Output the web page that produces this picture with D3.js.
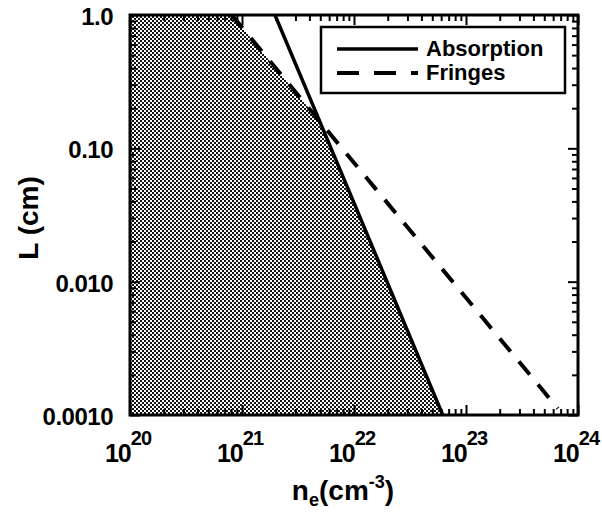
<!DOCTYPE html>
<html>
<head>
<meta charset="utf-8">
<script src="https://cdn.jsdelivr.net/npm/d3@7"></script>
<style>
  body { margin: 0; background: #fff; }
  svg { display: block; font-family: "Liberation Sans", Arial, Helvetica, sans-serif; font-weight: bold; }
</style>
</head>
<body>
<div id="chart"></div>
<script>
// decades on the density axis (10^20 .. 10^24)
var xExponents = [20, 21, 22, 23, 24];
var yTickValues = [1.0, 0.1, 0.01, 0.001];
var yTickLabels = ["1.0", "0.10", "0.010", "0.0010"];

// curves (n_e in cm^-3, L in cm)
var absorptionN = [1.97e21, 1.0e22, 6.2e22];
var absorptionL = [1.0, 0.039, 0.001];
var fringesN = [8.1e20, 1.0e22, 6.6e23];
var fringesL = [1.0, 0.078, 0.00112];

var legendNames = ["Absorption", "Fringes"];

var width = 602, height = 514,
    margin = { top: 15, right: 24, bottom: 99, left: 130 };

var svg = d3.select("#chart").append("svg")
    .attr("width", width)
    .attr("height", height);

var x = d3.scaleLog().domain([1e20, 1e24]).range([margin.left, width - margin.right]);
var y = d3.scaleLog().domain([0.001, 1]).range([height - margin.bottom, margin.top]);

var absorption = absorptionN.map(function(n, i) { return { n: n, L: absorptionL[i] }; });
var fringes = fringesN.map(function(n, i) { return { n: n, L: fringesL[i] }; });

// halftone fill
var defs = svg.append("defs");
var pat = defs.append("pattern")
    .attr("id", "halftone")
    .attr("patternUnits", "userSpaceOnUse")
    .attr("width", 4).attr("height", 4);
pat.append("rect").attr("width", 4).attr("height", 4).attr("fill", "#fff");
pat.append("rect").attr("width", 2).attr("height", 2).attr("fill", "#111");
pat.append("rect").attr("x", 2).attr("y", 2).attr("width", 2).attr("height", 2).attr("fill", "#111");

defs.append("clipPath").attr("id", "plot-clip")
  .append("rect")
    .attr("x", margin.left).attr("y", margin.top)
    .attr("width", width - margin.left - margin.right)
    .attr("height", height - margin.top - margin.bottom);

// n on a series (log-log straight pieces, extended at the ends) for a given L
function nAt(series, L) {
  var s = series.slice().sort(function(a, b) { return b.L - a.L; });
  var i = 0;
  while (i < s.length - 2 && L < s[i + 1].L) i++;
  var a = s[i], b = s[i + 1];
  var t = (Math.log(L) - Math.log(a.L)) / (Math.log(b.L) - Math.log(a.L));
  return Math.exp(Math.log(a.n) + t * (Math.log(b.n) - Math.log(a.n)));
}

// find where the two curves cross (bisection in log L)
function crossing() {
  var lo = Math.log(y.domain()[0]), hi = Math.log(y.domain()[1]);
  var f = function(v) { return nAt(absorption, Math.exp(v)) - nAt(fringes, Math.exp(v)); };
  for (var k = 0; k < 60; k++) {
    var mid = (lo + hi) / 2;
    if ((f(lo) > 0) === (f(mid) > 0)) lo = mid; else hi = mid;
  }
  return Math.exp((lo + hi) / 2);
}

var Ls = [y.domain()[1], y.domain()[0], crossing()]
    .concat(absorptionL, fringesL)
    .filter(function(L) { return L <= y.domain()[1] && L >= y.domain()[0]; })
    .sort(function(a, b) { return b - a; });

var boundary = Ls.map(function(L) {
  return { n: Math.min(nAt(absorption, L), nAt(fringes, L)), L: L };
});

var shade = d3.area()
    .y(function(d) { return y(d.L); })
    .x0(x.range()[0])
    .x1(function(d) { return x(d.n); });

var plot = svg.append("g").attr("clip-path", "url(#plot-clip)");

plot.append("path")
    .datum(boundary)
    .attr("fill", "url(#halftone)")
    .attr("d", shade);

var line = d3.line()
    .x(function(d) { return x(d.n); })
    .y(function(d) { return y(d.L); });

plot.append("path")
    .datum(absorption)
    .attr("fill", "none")
    .attr("stroke", "#000")
    .attr("stroke-width", 3.5)
    .attr("d", line);

plot.append("path")
    .datum(fringes)
    .attr("fill", "none")
    .attr("stroke", "#000")
    .attr("stroke-width", 4)
    .attr("stroke-dasharray", "17,13")
    .attr("d", line);

// minor tick positions
var xMinor = [];
xExponents.slice(0, -1).forEach(function(e) {
  for (var m = 2; m < 10; m++) xMinor.push(m * Math.pow(10, e));
});
var yMinor = [];
[-3, -2, -1].forEach(function(e) {
  for (var m = 2; m < 10; m++) yMinor.push(m * Math.pow(10, e));
});
var xMajor = xExponents.map(function(e) { return Math.pow(10, e); });

function tickAxis(axisFn, scale, values, size, tx, ty) {
  var g = svg.append("g")
      .attr("transform", "translate(" + tx + "," + ty + ")")
      .call(axisFn(scale).tickValues(values).tickSizeInner(-size).tickSizeOuter(0).tickFormat(""));
  g.select(".domain").remove();
  g.selectAll(".tick line").attr("stroke", "#000").attr("stroke-width", 2);
  return g;
}

var x0 = margin.left, x1 = width - margin.right,
    y0 = margin.top, y1 = height - margin.bottom;

tickAxis(d3.axisBottom, x, xMajor, 10, 0, y1);
tickAxis(d3.axisBottom, x, xMinor, 6, 0, y1);
tickAxis(d3.axisTop, x, xMajor, 10, 0, y0);
tickAxis(d3.axisTop, x, xMinor, 6, 0, y0);
tickAxis(d3.axisLeft, y, yTickValues, 10, x0, 0);
tickAxis(d3.axisLeft, y, yMinor, 6, x0, 0);
tickAxis(d3.axisRight, y, yTickValues, 10, x1, 0);
tickAxis(d3.axisRight, y, yMinor, 6, x1, 0);

// frame
svg.append("rect")
    .attr("x", x0).attr("y", y0)
    .attr("width", x1 - x0).attr("height", y1 - y0)
    .attr("fill", "none")
    .attr("stroke", "#000")
    .attr("stroke-width", 3);

// y tick labels
svg.append("g").selectAll("text")
  .data(yTickValues)
  .join("text")
    .attr("x", x0 - 17)
    .attr("y", function(d) { return y(d); })
    .attr("dy", "0.42em")
    .attr("text-anchor", "end")
    .attr("font-size", 24)
    .attr("letter-spacing", -0.5)
    .text(function(d, i) { return yTickLabels[i]; });

// x tick labels 10^n
var xl = svg.append("g").selectAll("text")
  .data(xExponents)
  .join("text")
    .attr("x", function(e) { return x(Math.pow(10, e)) - 2; })
    .attr("y", 462)
    .attr("text-anchor", "middle")
    .attr("font-size", 25)
    .attr("letter-spacing", -1);
xl.append("tspan").text("10");
xl.append("tspan").attr("dy", -17).attr("font-size", 20).text(function(e) { return e; });

// axis titles
var xt = svg.append("text")
    .attr("x", 343)
    .attr("y", 500)
    .attr("text-anchor", "middle")
    .attr("font-size", 28);
xt.append("tspan").text("n");
xt.append("tspan").attr("dy", 6).attr("font-size", 18).text("e");
xt.append("tspan").attr("dy", -6).text("(cm");
xt.append("tspan").attr("dy", -12).attr("font-size", 18).text("-3");
xt.append("tspan").attr("dy", 12).text(")");

svg.append("text")
    .attr("transform", "translate(38,218) rotate(-90)")
    .attr("text-anchor", "middle")
    .attr("font-size", 28)
    .text("L (cm)");

// legend
var lg = svg.append("g");
lg.append("rect")
    .attr("x", 321).attr("y", 27)
    .attr("width", 244).attr("height", 66)
    .attr("fill", "#fff")
    .attr("stroke", "#000")
    .attr("stroke-width", 2.5);

var legendRows = lg.selectAll("g.row")
  .data(legendNames)
  .join("g")
    .attr("class", "row")
    .attr("transform", function(d, i) { return "translate(0," + (49 + i * 24) + ")"; });

legendRows.append("line")
    .attr("x1", 337).attr("x2", 418)
    .attr("stroke", "#000")
    .attr("stroke-width", function(d, i) { return i ? 4 : 3.5; })
    .attr("stroke-dasharray", function(d, i) { return i ? "22,15" : null; });

legendRows.append("text")
    .attr("x", 426)
    .attr("y", 7)
    .attr("font-size", 22)
    .text(function(d) { return d; });
</script>
</body>
</html>
